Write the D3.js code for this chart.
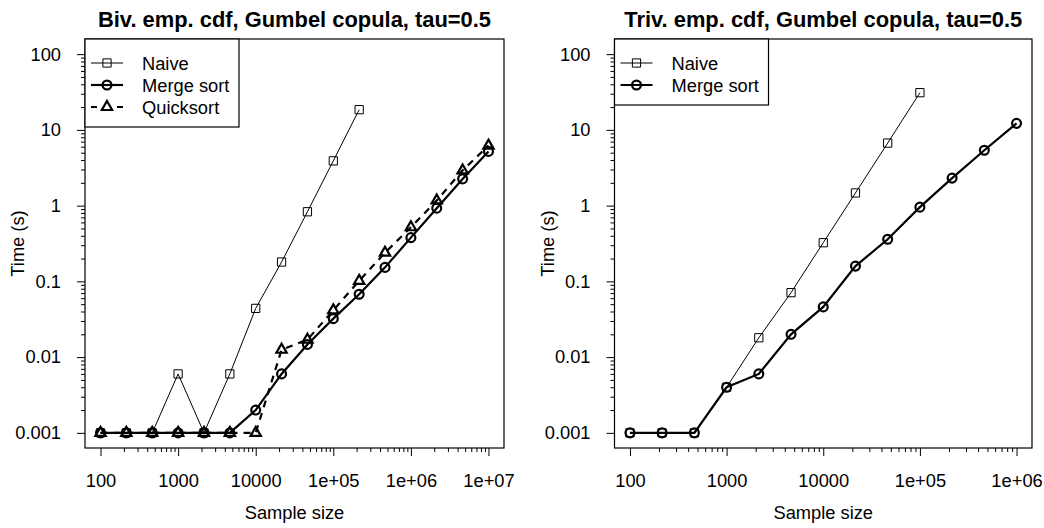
<!DOCTYPE html>
<html>
<head>
<meta charset="utf-8">
<script src="https://cdn.jsdelivr.net/npm/d3@7"></script>
<style>
  body { margin: 0; background: #fff; }
  text { font-family: "Liberation Sans", Arial, Helvetica, sans-serif; fill: #000; }
</style>
</head>
<body>
<svg id="chart"></svg>
<script>
// sample sizes (10^(k/3) steps)
const bivSizes = [100, 215, 464, 1000, 2154, 4642, 10000, 21544, 46416, 1e5, 215443, 464159, 1e6, 2154435, 4641589, 1e7];
const trivSizes = [100, 215, 464, 1000, 2154, 4642, 10000, 21544, 46416, 1e5, 215443, 464159, 1e6];

// timings in seconds
const bivNaive = [0.001, 0.001, 0.001, 0.006, 0.001, 0.006, 0.044, 0.18, 0.83, 3.9, 18.5];
const bivMerge = [0.001, 0.001, 0.001, 0.001, 0.001, 0.001, 0.002, 0.006, 0.0147, 0.0322, 0.0676, 0.153, 0.378, 0.925, 2.25, 5.2];
const bivQuick = [0.001, 0.001, 0.001, 0.001, 0.001, 0.001, 0.001, 0.0125, 0.017, 0.0415, 0.1016, 0.239, 0.518, 1.17, 2.92, 6.2];

const trivNaive = [0.001, 0.001, 0.001, 0.004, 0.018, 0.071, 0.324, 1.47, 6.7, 31];
const trivMerge = [0.001, 0.001, 0.001, 0.004, 0.006, 0.020, 0.046, 0.159, 0.36, 0.955, 2.31, 5.38, 12.2];

const yTicks = [0.001, 0.01, 0.1, 1, 10, 100];
const yTickLabels = ["0.001", "0.01", "0.1", "1", "10", "100"];
const bivXTicks = [100, 1000, 10000, 1e5, 1e6, 1e7];
const bivXTickLabels = ["100", "1000", "10000", "1e+05", "1e+06", "1e+07"];
const trivXTicks = [100, 1000, 10000, 1e5, 1e6];
const trivXTickLabels = ["100", "1000", "10000", "1e+05", "1e+06"];

const width = 1044, height = 528;
const fontSize = 18.3;

const svg = d3.select("#chart")
    .attr("width", width)
    .attr("height", height)
    .attr("viewBox", [0, 0, width, height]);

svg.append("rect").attr("width", width).attr("height", height).attr("fill", "#fff");

// R style log axis padding: 4% of the log range on each side
function paddedLogDomain(lo, hi) {
    let pad = (Math.log10(hi) - Math.log10(lo)) * 0.04;
    return [Math.pow(10, Math.log10(lo) - pad), Math.pow(10, Math.log10(hi) + pad)];
}

function minorTicks(lo, hi) {
    let out = [];
    for (let d = Math.floor(Math.log10(lo)); d < Math.ceil(Math.log10(hi)); d++) {
        for (let k = 2; k <= 9; k++) {
            let v = k * Math.pow(10, d);
            if (v > lo && v < hi) out.push(v);
        }
    }
    return out;
}

const symbols = {
    square: d3.symbol().type(d3.symbolSquare).size(68),
    circle: d3.symbol().type(d3.symbolCircle).size(62),
    triangle: d3.symbol().type(d3.symbolTriangle).size(46)
};

function drawPanel(p) {
    let x = d3.scaleLog().domain(paddedLogDomain(p.xTicks[0], p.xTicks[p.xTicks.length - 1])).range([p.left, p.right]);
    let y = d3.scaleLog().domain(paddedLogDomain(0.001, 100)).range([p.bottom, p.top]);

    let g = svg.append("g");

    // axes
    g.append("g").attr("transform", `translate(0,${p.bottom})`)
        .call(d3.axisBottom(x).tickValues(p.xTicks).tickSize(8).tickPadding(18.5)
            .tickFormat((d, i) => p.xLabels[i]));
    g.append("g").attr("transform", `translate(0,${p.bottom})`)
        .call(d3.axisBottom(x).tickValues(minorTicks(p.xTicks[0], p.xTicks[p.xTicks.length - 1])).tickSize(4).tickFormat(""));
    g.append("g").attr("transform", `translate(${p.left},0)`)
        .call(d3.axisLeft(y).tickValues(yTicks).tickSize(8).tickPadding(16)
            .tickFormat((d, i) => yTickLabels[i]));
    g.append("g").attr("transform", `translate(${p.left},0)`)
        .call(d3.axisLeft(y).tickValues(minorTicks(0.001, 100)).tickSize(4).tickFormat(""));

    g.selectAll(".domain").remove();
    g.selectAll(".tick line").attr("stroke", "#000");
    g.selectAll(".tick text").attr("font-size", fontSize).attr("font-family", null).attr("fill", "#000");

    // series
    p.series.forEach(s => {
        let pts = s.values.map((v, i) => [p.sizes[i], v]);
        let line = d3.line().x(d => x(d[0])).y(d => y(d[1]));
        g.append("path")
            .datum(pts)
            .attr("fill", "none")
            .attr("stroke", "#000")
            .attr("stroke-width", s.lw)
            .attr("stroke-dasharray", s.dash)
            .attr("d", line);
        g.selectAll(null)
            .data(pts)
            .join("path")
            .attr("transform", d => `translate(${x(d[0])},${y(d[1])})`)
            .attr("d", symbols[s.symbol]())
            .attr("fill", "none")
            .attr("stroke", "#000")
            .attr("stroke-width", s.lw);
    });

    // plot box
    g.append("rect")
        .attr("x", p.left).attr("y", p.top)
        .attr("width", p.right - p.left).attr("height", p.bottom - p.top)
        .attr("fill", "none").attr("stroke", "#000").attr("stroke-width", 1.2);

    // title and axis labels
    g.append("text")
        .attr("x", (p.left + p.right) / 2).attr("y", 26.5)
        .attr("text-anchor", "middle").attr("font-size", 21.9).attr("font-weight", "bold")
        .text(p.title);
    g.append("text")
        .attr("x", (p.left + p.right) / 2).attr("y", 519)
        .attr("text-anchor", "middle").attr("font-size", fontSize)
        .text("Sample size");
    g.append("text")
        .attr("transform", `translate(${p.left - 61},${(p.top + p.bottom) / 2}) rotate(-90)`)
        .attr("text-anchor", "middle").attr("font-size", fontSize)
        .text("Time (s)");

    // legend
    let lg = g.append("g");
    let rowH = 22;
    lg.append("rect")
        .attr("x", p.left).attr("y", p.top)
        .attr("width", p.legendWidth).attr("height", 22 + rowH * p.series.length)
        .attr("fill", "#fff").attr("stroke", "#000").attr("stroke-width", 1.2);
    p.series.forEach((s, i) => {
        let cy = p.top + 24 + i * rowH;
        let x0 = p.left + 6, x1 = p.left + 38, xm = (x0 + x1) / 2;
        lg.append("line")
            .attr("x1", x0).attr("x2", x1).attr("y1", cy).attr("y2", cy)
            .attr("stroke", "#000").attr("stroke-width", s.lw)
            .attr("stroke-dasharray", s.dash ? "6,20" : null);
        lg.append("path")
            .attr("transform", `translate(${xm},${cy})`)
            .attr("d", symbols[s.symbol]())
            .attr("fill", s.dash ? "#fff" : "none")
            .attr("stroke", "#000").attr("stroke-width", s.lw);
        lg.append("text")
            .attr("x", p.left + 57).attr("y", cy + 6.5)
            .attr("font-size", fontSize)
            .text(s.name);
    });
}

drawPanel({
    title: "Biv. emp. cdf, Gumbel copula, tau=0.5",
    left: 85, right: 504, top: 39, bottom: 448,
    sizes: bivSizes,
    xTicks: bivXTicks, xLabels: bivXTickLabels,
    legendWidth: 154,
    series: [
        {name: "Naive", values: bivNaive, lw: 1, dash: null, symbol: "square"},
        {name: "Merge sort", values: bivMerge, lw: 2.2, dash: null, symbol: "circle"},
        {name: "Quicksort", values: bivQuick, lw: 2.2, dash: "7,6", symbol: "triangle"}
    ]
});

drawPanel({
    title: "Triv. emp. cdf, Gumbel copula, tau=0.5",
    left: 614.5, right: 1032, top: 39, bottom: 448,
    sizes: trivSizes,
    xTicks: trivXTicks, xLabels: trivXTickLabels,
    legendWidth: 154,
    series: [
        {name: "Naive", values: trivNaive, lw: 1, dash: null, symbol: "square"},
        {name: "Merge sort", values: trivMerge, lw: 2.2, dash: null, symbol: "circle"}
    ]
});
</script>
</body>
</html>
